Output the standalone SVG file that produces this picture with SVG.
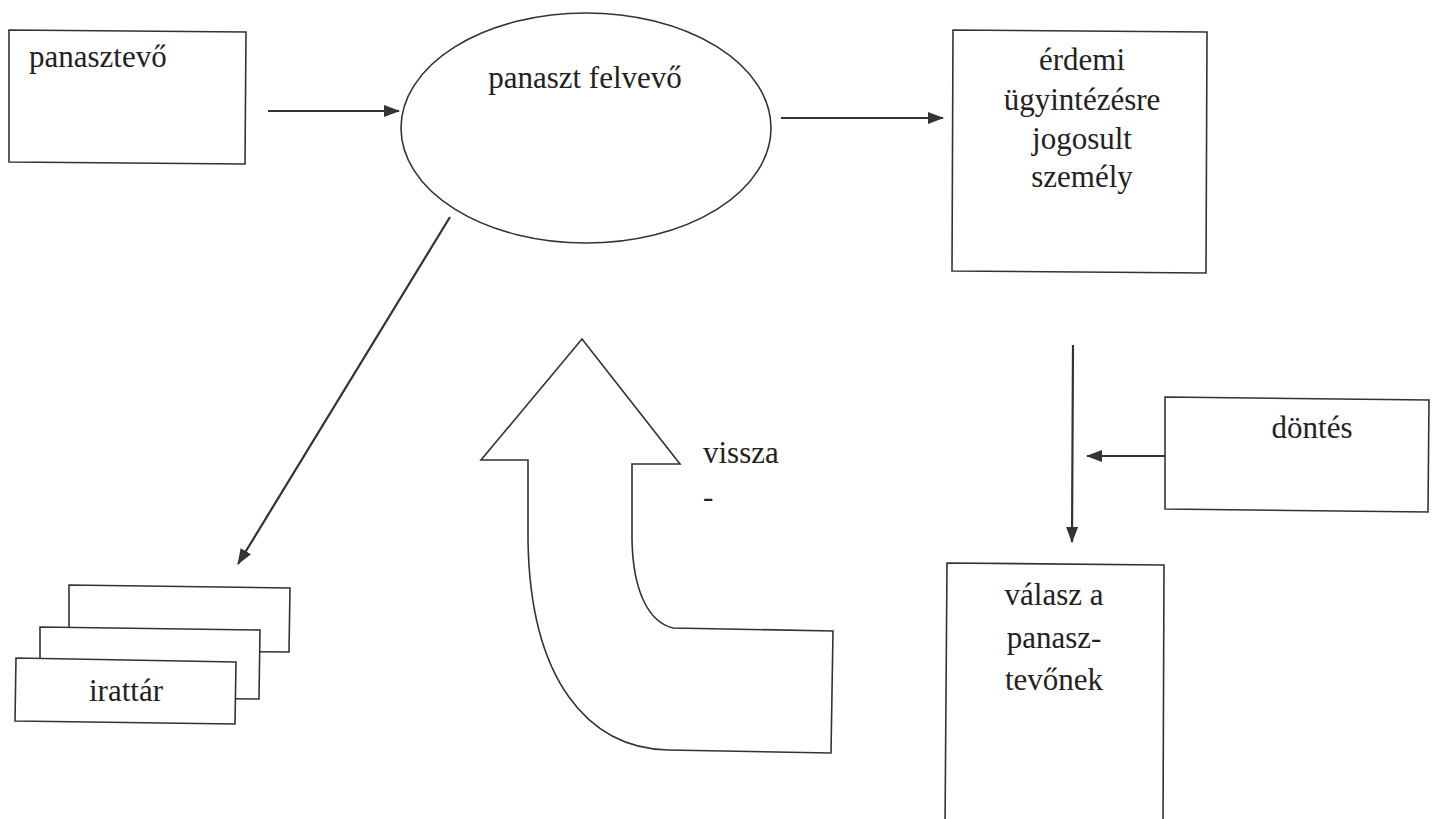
<svg xmlns="http://www.w3.org/2000/svg" width="1437" height="819" viewBox="0 0 1437 819">
  <style>
    .box { fill: #fff; stroke: #333; stroke-width: 1.6; }
    .con { fill: none; stroke: #333; stroke-width: 2.2; }
    .t { font-family: 'Liberation Serif', 'Times New Roman', Times, Tinos, 'Noto Serif', 'DejaVu Serif', FreeSerif, Georgia, serif; font-size: 31px; fill: #222; }
    .c { text-anchor: middle; }
  </style>
  <defs>
    <marker id="ah" viewBox="0 0 16 12" refX="15" refY="6" markerWidth="16" markerHeight="12" markerUnits="userSpaceOnUse" orient="auto">
      <path d="M0,0 L16,6 L0,12 z" fill="#333"/>
    </marker>
  </defs>
  <rect width="1437" height="819" fill="#fff"/>

  <g id="connectors">
    <line class="con" x1="268" y1="111" x2="399" y2="111" marker-end="url(#ah)"/>
    <line class="con" x1="781" y1="118" x2="943" y2="118" marker-end="url(#ah)"/>
    <line class="con" x1="450" y1="217" x2="238" y2="564" marker-end="url(#ah)"/>
    <line class="con" x1="1073" y1="345" x2="1072" y2="542" marker-end="url(#ah)"/>
    <line class="con" x1="1165" y1="456" x2="1087" y2="456" marker-end="url(#ah)"/>
  </g>

  <g id="panasztevo">
    <path class="box" d="M9,30 L246,32 L245,164 L9,162 Z"/>
    <text class="t" x="29" y="67">panasztevő</text>
  </g>

  <g id="panaszt-felvevo">
    <ellipse class="box" cx="586" cy="128" rx="185" ry="115"/>
    <text class="t c" x="585" y="88">panaszt felvevő</text>
  </g>

  <g id="erdemi">
    <path class="box" d="M953,30 L1207,32 L1206,273 L952,271 Z"/>
    <text class="t c" x="1082" y="70">érdemi</text>
    <text class="t c" x="1082" y="110">ügyintézésre</text>
    <text class="t c" x="1082" y="149">jogosult</text>
    <text class="t c" x="1082" y="187">személy</text>
  </g>

  <g id="dontes">
    <path class="box" d="M1165,397 L1429,400 L1428,512 L1165,509 Z"/>
    <text class="t c" x="1312" y="438">döntés</text>
  </g>

  <g id="valasz">
    <path class="box" d="M947,563 L1164,565 L1163,830 L945,830 Z"/>
    <text class="t c" x="1054" y="605">válasz a</text>
    <text class="t c" x="1054" y="648">panasz-</text>
    <text class="t c" x="1054" y="690">tevőnek</text>
  </g>

  <g id="irattar">
    <path class="box" d="M69,585 L290,588 L289,652 L69,650 Z"/>
    <path class="box" d="M40,627 L260,630 L259,699 L40,697 Z"/>
    <path class="box" d="M16,658 L236,662 L235,724 L15,721 Z"/>
    <text class="t c" x="126" y="701">irattár</text>
  </g>

  <g id="vissza">
    <path class="box" d="M582,339 L680,464 L632,464 L632,540 C633,590 648,622 673,628 L833,631 L831,753 L668,750 C588,748 530,680 528,540 L528,460 L481,460 Z"/>
    <text class="t" x="703" y="463">vissza</text>
    <text class="t" x="703" y="507">-</text>
  </g>
</svg>
